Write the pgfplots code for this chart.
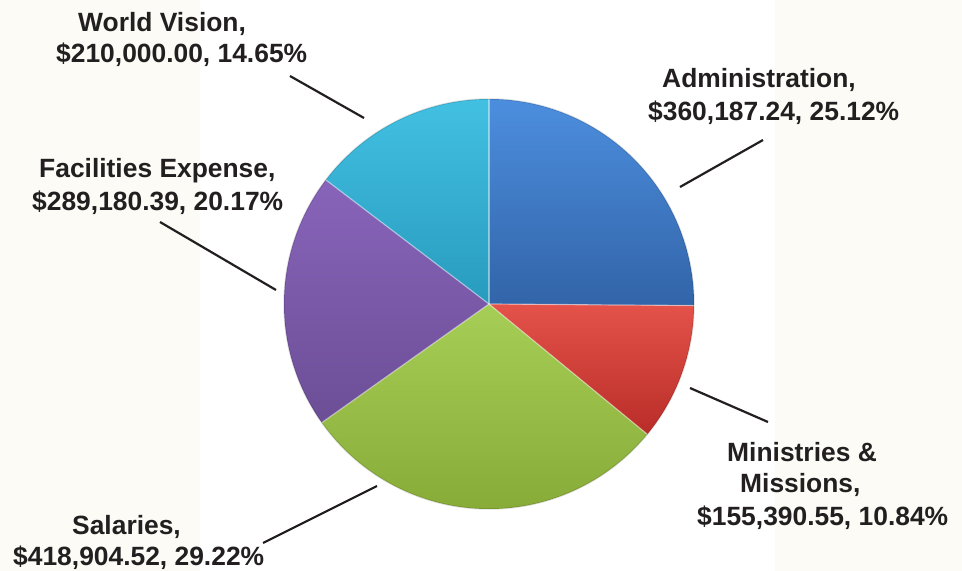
\documentclass[border=0pt]{standalone}
\usepackage{pgfplots}
\pgfplotsset{compat=1.18}
\usepackage{fontspec}
\setmainfont{Liberation Sans}
\definecolor{txt}{RGB}{35,31,32}
\definecolor{bgoff}{RGB}{252,251,246}
\definecolor{admT}{RGB}{76,142,222}
\definecolor{admB}{RGB}{50,100,168}
\definecolor{minT}{RGB}{228,82,74}
\definecolor{minB}{RGB}{185,45,40}
\definecolor{salT}{RGB}{166,206,86}
\definecolor{salB}{RGB}{135,170,55}
\definecolor{facT}{RGB}{136,100,186}
\definecolor{facB}{RGB}{108,78,150}
\definecolor{wvT}{RGB}{66,192,226}
\definecolor{wvB}{RGB}{40,155,190}
\newcommand\lbl{\fontsize{26.4bp}{31bp}\selectfont\bfseries}
\begin{document}
\begin{tikzpicture}
\begin{axis}[name=ax, scale only axis, width=962bp, height=571bp,
  xmin=0, xmax=962, ymin=0, ymax=571, y dir=reverse, hide axis, clip=false]
% background
\fill[bgoff] (axis cs:0,0) rectangle (axis cs:962,571);
\fill[white] (axis cs:200,0) rectangle (axis cs:775,571);
% slices (percentages: 25.12, 10.84, 29.22, 20.17, 14.65; 3.6 deg per percent, clockwise from 90 deg)
\shade[top color=admT, bottom color=admB] (axis cs:489,304) -- ++(90:205bp) arc[start angle=90, delta angle=-90.432, radius=205bp] -- cycle;
\shade[top color=minT, bottom color=minB] (axis cs:489,304) -- ++(-0.432:205bp) arc[start angle=-0.432, delta angle=-39.024, radius=205bp] -- cycle;
\shade[top color=salT, bottom color=salB] (axis cs:489,304) -- ++(-39.456:205bp) arc[start angle=-39.456, delta angle=-105.192, radius=205bp] -- cycle;
\shade[top color=facT, bottom color=facB] (axis cs:489,304) -- ++(-144.648:205bp) arc[start angle=-144.648, delta angle=-72.612, radius=205bp] -- cycle;
\shade[top color=wvT, bottom color=wvB] (axis cs:489,304) -- ++(-217.26:205bp) arc[start angle=-217.26, delta angle=-52.74, radius=205bp] -- cycle;
% slice borders
\draw[white, opacity=0.45, line width=1.2bp] (axis cs:489,304) -- ++(90:205bp);
\draw[white, opacity=0.45, line width=1.2bp] (axis cs:489,304) -- ++(-0.432:205bp);
\draw[white, opacity=0.45, line width=1.2bp] (axis cs:489,304) -- ++(-39.456:205bp);
\draw[white, opacity=0.45, line width=1.2bp] (axis cs:489,304) -- ++(-144.648:205bp);
\draw[white, opacity=0.45, line width=1.2bp] (axis cs:489,304) -- ++(-217.26:205bp);
\draw[black, opacity=0.12, line width=1.5bp] (axis cs:489,304) circle[radius=205bp];
% leader lines
\draw[txt, line width=2.2bp] (axis cs:290,76) -- (axis cs:364,118);
\draw[txt, line width=2.2bp] (axis cs:680,187) -- (axis cs:763,140);
\draw[txt, line width=2.2bp] (axis cs:160,222) -- (axis cs:276,290);
\draw[txt, line width=2.2bp] (axis cs:690,388) -- (axis cs:768,422);
\draw[txt, line width=2.2bp] (axis cs:263,543) -- (axis cs:377,486);
% labels
\node[anchor=base west, inner sep=0, txt, font=\lbl] at (axis cs:78,32) {World Vision,};
\node[anchor=base west, inner sep=0, txt, font=\lbl] at (axis cs:56,63) {\$210,000.00, 14.65\%};
\node[anchor=base west, inner sep=0, txt, font=\lbl] at (axis cs:39,177) {Facilities Expense,};
\node[anchor=base west, inner sep=0, txt, font=\lbl] at (axis cs:32,210) {\$289,180.39, 20.17\%};
\node[anchor=base west, inner sep=0, txt, font=\lbl] at (axis cs:662,88) {Administration,};
\node[anchor=base west, inner sep=0, txt, font=\lbl] at (axis cs:648,120) {\$360,187.24, 25.12\%};
\node[anchor=base west, inner sep=0, txt, font=\lbl] at (axis cs:727,461) {Ministries \&};
\node[anchor=base west, inner sep=0, txt, font=\lbl] at (axis cs:740,492) {Missions,};
\node[anchor=base west, inner sep=0, txt, font=\lbl] at (axis cs:697,525) {\$155,390.55, 10.84\%};
\node[anchor=base west, inner sep=0, txt, font=\lbl] at (axis cs:72,534) {Salaries,};
\node[anchor=base west, inner sep=0, txt, font=\lbl] at (axis cs:13,565) {\$418,904.52, 29.22\%};
\end{axis}
\pgfresetboundingbox
\path[use as bounding box] (ax.south west) rectangle (ax.north east);
\end{tikzpicture}
\end{document}
